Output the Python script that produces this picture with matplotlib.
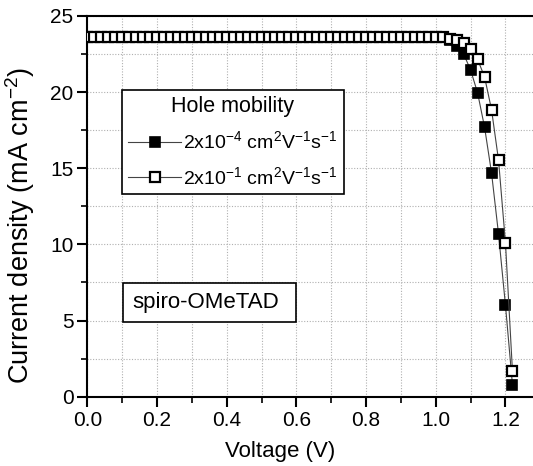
import matplotlib
matplotlib.use("Agg")
import matplotlib.pyplot as plt
import numpy as np
from matplotlib.ticker import MultipleLocator
from matplotlib.patches import Rectangle

plt.rcParams['font.family'] = ['Liberation Sans', 'DejaVu Sans']
plt.rcParams['mathtext.fontset'] = 'custom'
plt.rcParams['mathtext.rm'] = 'Liberation Sans'
plt.rcParams['mathtext.it'] = 'Liberation Sans:italic'
plt.rcParams['mathtext.bf'] = 'Liberation Sans:bold'

# ---- data ----
flat_v = [round(0.02 * i, 2) for i in range(0, 52)]  # 0.00 ... 1.02
flat_j = [23.6] * len(flat_v)

knee_v = [1.04, 1.06, 1.08, 1.10, 1.12, 1.14, 1.16, 1.18, 1.20, 1.22]
low_mob_j = [23.4, 23.0, 22.5, 21.45, 19.95, 17.7, 14.7, 10.7, 6.0, 0.8]
high_mob_j = [23.5, 23.4, 23.2, 22.85, 22.15, 21.0, 18.85, 15.55, 10.1, 1.7]

v_low = flat_v + knee_v
j_low = flat_j + low_mob_j
v_high = flat_v + knee_v
j_high = flat_j + high_mob_j

labels = [r'2x10$^{-4}$ cm$^{2}$V$^{-1}$s$^{-1}$',
          r'2x10$^{-1}$ cm$^{2}$V$^{-1}$s$^{-1}$']
legend_title = 'Hole mobility'
xticks = [0.0, 0.2, 0.4, 0.6, 0.8, 1.0, 1.2]
yticks = [0, 5, 10, 15, 20, 25]

# ---- figure ----
fig = plt.figure(figsize=(5.33, 4.66), dpi=100)
ax = fig.add_axes([0.1638, 0.1487, 1.0 - 0.1638, 0.8170])

ax.plot(v_low, j_low, color='#444444', lw=0.8, marker='s', ms=7.4,
        mfc='black', mec='black', mew=1.2, label=labels[0], zorder=3)
ax.plot(v_high, j_high, color='#444444', lw=0.8, marker='s', ms=7.4,
        mfc='white', mec='black', mew=1.6, label=labels[1], zorder=4)

ax.set_xlim(0, 1.279)
ax.set_ylim(0, 25)
ax.set_xticks(xticks)
ax.set_xticklabels([f'{t:.1f}' for t in xticks])
ax.set_yticks(yticks)
ax.xaxis.set_minor_locator(MultipleLocator(0.1))
ax.yaxis.set_minor_locator(MultipleLocator(2.5))

ax.grid(True, which='both', color='#b0b0b0', linestyle=(0, (1, 1.5)), lw=0.8)
ax.set_axisbelow(True)

for s in ['left', 'bottom', 'top']:
    ax.spines[s].set_linewidth(1.5)
ax.spines['right'].set_visible(False)

ax.tick_params(which='major', direction='out', length=7, width=1.5,
               labelsize=15, top=False, right=False, pad=3)
ax.tick_params(which='minor', direction='out', length=4, width=1.2,
               top=False, right=False)

ax.set_xlabel('Voltage (V)', fontsize=16)
ax.xaxis.set_label_coords(0.4335, -0.116)
ax.set_ylabel(r'Current density (mA cm$^{-2}$)', fontsize=19.5)
ax.yaxis.set_label_coords(-0.113, 0.45)

leg = ax.legend(loc='upper left', bbox_to_anchor=(0.078, 0.806),
                title=legend_title, fontsize=14, title_fontsize=15.5,
                frameon=True, fancybox=False, edgecolor='black',
                borderaxespad=0, handlelength=2.7, handletextpad=0.12,
                borderpad=0.32, labelspacing=0.7)
leg.get_frame().set_linewidth(1.2)
leg.get_frame().set_alpha(1)
leg.set_zorder(10)

ax.add_patch(Rectangle((0.0801, 0.1962), 0.4683 - 0.0801, 0.2987 - 0.1962,
                       transform=ax.transAxes, fc='white', ec='black',
                       lw=1.2, zorder=9))
ax.text(0.1003, 0.247, 'spiro-OMeTAD', transform=ax.transAxes, fontsize=16,
        va='center', ha='left', zorder=10)

fig.savefig('out.png', dpi=100)
